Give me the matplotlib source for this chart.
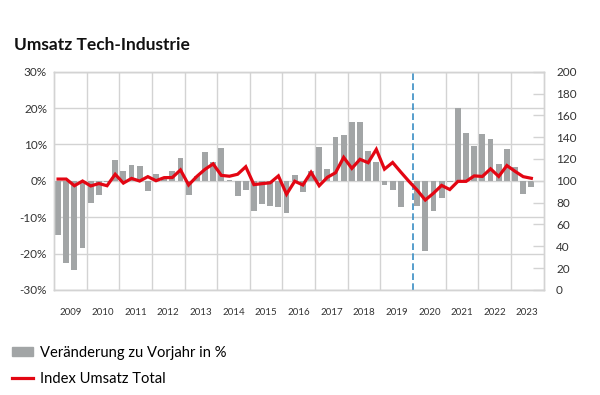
import matplotlib
matplotlib.use("Agg")
import matplotlib.pyplot as plt
from matplotlib.patches import Patch
from matplotlib.lines import Line2D

plt.rcParams['font.family'] = ['Lato', 'DejaVu Sans']

# quarterly values 2009 Q1 .. 2023 Q3
change_pct = [
    -15.0, -22.7, -24.5, -18.4,   # 2009
    -6.1, -4.0, -0.3, 5.8,        # 2010
    2.7, 4.4, 4.0, -2.7,          # 2011
    1.9, 0.7, 2.8, 6.3,           # 2012
    -4.0, 1.2, 8.0, 5.3,          # 2013
    9.0, 0.1, -4.3, -2.4,         # 2014
    -8.2, -6.3, -6.8, -7.3,       # 2015
    -8.8, 1.7, -3.2, 2.6,         # 2016
    9.4, 3.3, 12.0, 12.7,         # 2017
    16.3, 16.1, 8.3, 5.2,         # 2018
    -1.1, -2.6, -7.3, 0.0,        # 2019
    -7.0, -19.4, -8.3, -4.7,      # 2020
    -0.4, 20.1, 13.1, 9.6,        # 2021
    12.8, 11.6, 4.5, 8.7,         # 2022
    3.7, -3.5, -1.6,              # 2023
]
index_total = [
    101.6, 101.6, 95.5, 99.8,
    95.3, 97.5, 95.5, 106.0,
    97.9, 102.2, 99.8, 103.8,
    100.1, 102.9, 103.0, 110.0,
    96.2, 104.0, 110.5, 115.5,
    105.0, 104.2, 106.0, 112.9,
    96.5, 97.4, 98.2, 104.5,
    87.7, 99.6, 96.2, 107.8,
    95.5, 103.2, 107.4, 121.5,
    111.4, 119.7, 116.6, 128.8,
    110.7, 116.8, 108.0, 99.5,
    91.5, 82.4, 88.6, 95.8,
    92.0, 99.5, 99.5, 104.5,
    104.0, 111.0, 104.0, 114.0,
    108.7, 103.8, 102.3,
]
years = list(range(2009, 2024))
pct_ticks = [-30, -20, -10, 0, 10, 20, 30]
idx_ticks = list(range(0, 201, 20))
break_year = 2020

grey = '#a2a5a6'
red = '#e30613'
grid_c = '#d3d3d3'

fig = plt.figure(figsize=(6, 3.95), dpi=100)
ax = fig.add_axes([0.09, 0.266, 0.816, 0.5525])
ax2 = ax.twinx()

q = list(range(len(change_pct)))
ax.bar(q, change_pct, width=0.72, color=grey, zorder=2)
ax2.plot(range(len(index_total)), index_total, color=red, lw=2.3, zorder=3,
         solid_joinstyle='miter')

ax.set_xlim(-0.5, len(years) * 4 - 0.5)
ax.set_ylim(-30, 30)
ax2.set_ylim(0, 200)

# grid
for v in pct_ticks:
    ax.axhline(v, color=grid_c, lw=1, zorder=0)
for i, y in enumerate(years[1:], start=1):
    if y == break_year:
        continue
    ax.axvline(i * 4 - 0.5, color=grid_c, lw=1, zorder=0)
ax.axvline((break_year - years[0]) * 4 - 0.5, color='#3a8ec4', lw=1.2,
           ls=(0, (4, 2)), zorder=4)

ax.set_yticks(pct_ticks)
ax.set_yticklabels([f'{v}%' for v in pct_ticks])
ax.tick_params(axis='y', length=0, pad=5, labelsize=8.5, labelcolor='#333333')
ax.set_xticks([i * 4 + 1.5 for i in range(len(years))])
ax.set_xticklabels([str(y) for y in years])
ax.tick_params(axis='x', length=0, pad=13, labelsize=7, labelcolor='#333333')

ax2.set_yticks(idx_ticks)
ax2.tick_params(axis='y', direction='in', length=8, width=1, color=grid_c,
                pad=9, labelsize=8.5, labelcolor='#333333')
for lab in ax2.get_yticklabels():
    lab.set_horizontalalignment('left')

for a in (ax, ax2):
    for s in a.spines.values():
        s.set_color(grid_c)
        s.set_linewidth(1)

fig.text(0.023, 0.873, 'Umsatz Tech-Industrie', fontsize=12.5,
         fontweight='bold', color='#111111')

handles = [Patch(color=grey), Line2D([], [], color=red, lw=2.3)]
labels = ['Veränderung zu Vorjahr in %', 'Index Umsatz Total']
fig.legend(handles, labels, loc='upper left', bbox_to_anchor=(0.01, 0.14),
           frameon=False, fontsize=10.6, handlelength=1.4, handleheight=0.5,
           handletextpad=0.5, labelspacing=0.85, borderaxespad=0)

fig.savefig('out.png', dpi=100)
